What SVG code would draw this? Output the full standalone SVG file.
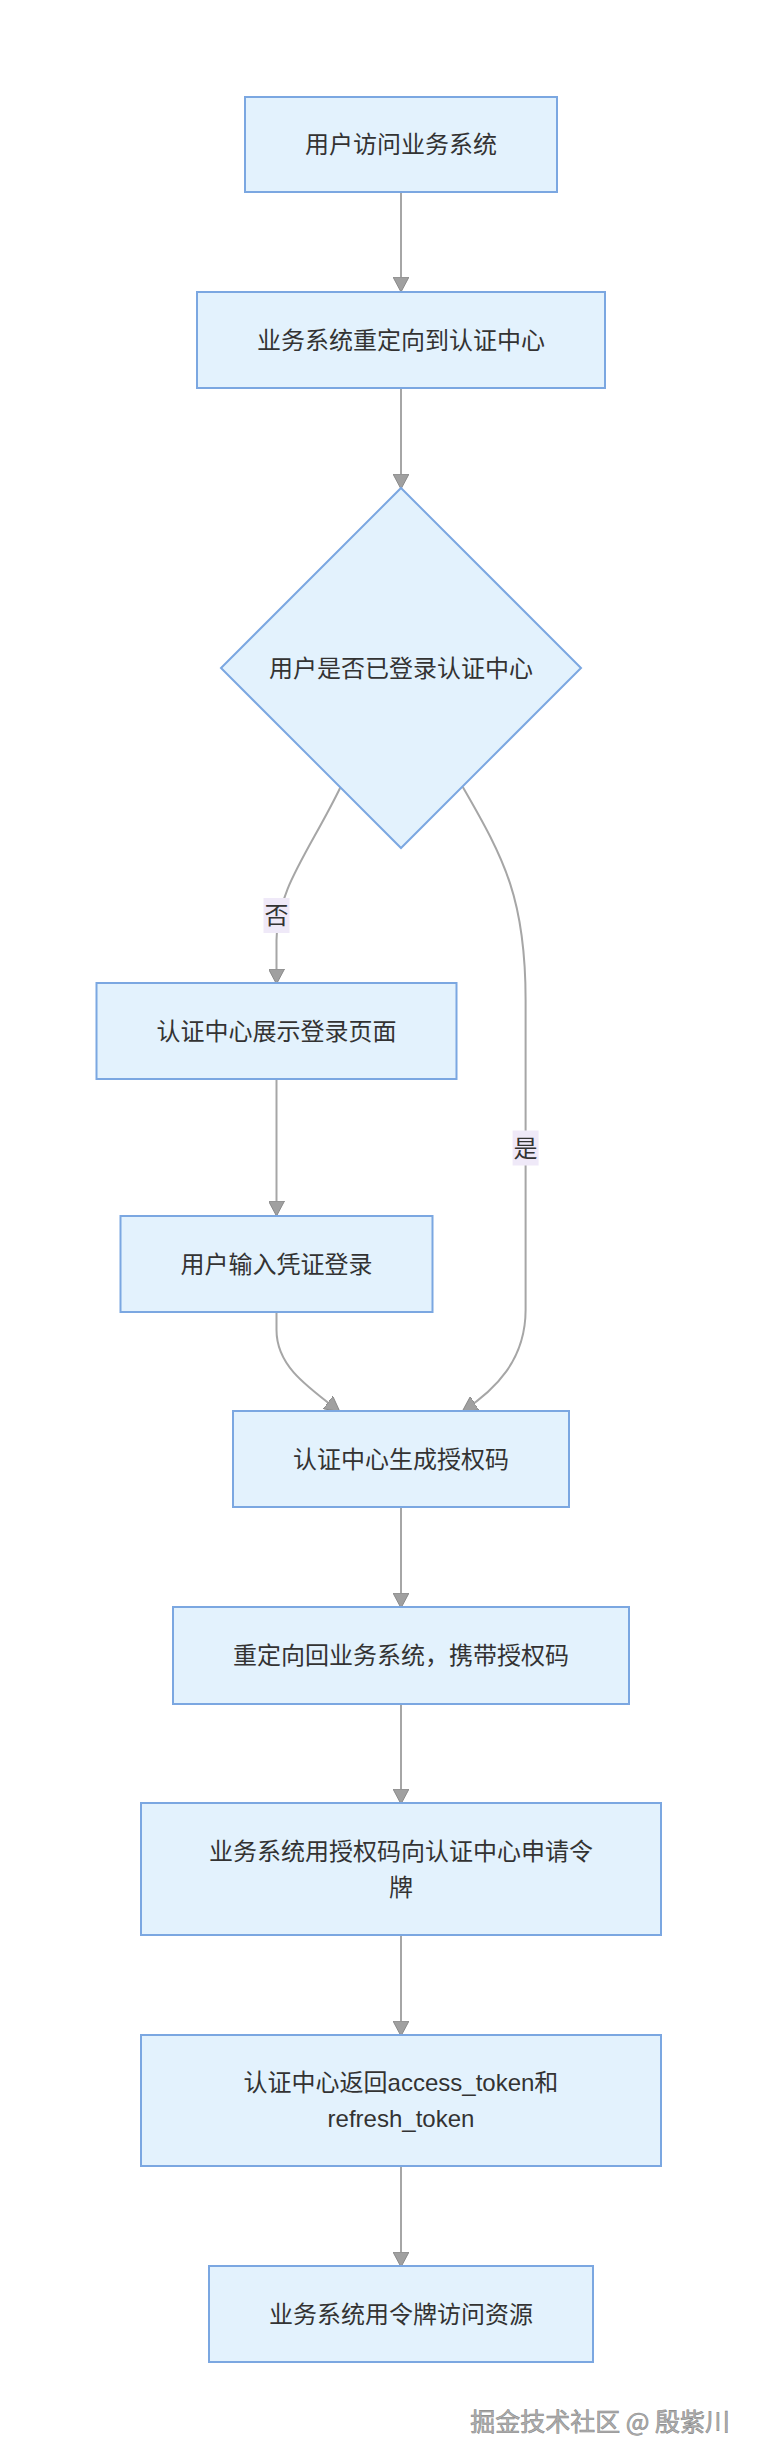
<svg xmlns="http://www.w3.org/2000/svg" width="757" height="2460" viewBox="0 0 757 2460">
<style>
.node rect, .node polygon { fill: #e3f2fd; stroke: #7ba7e1; stroke-width: 2; }
.node text, .lbl text { font-family: "Liberation Sans", "Noto Sans CJK SC", sans-serif; font-size: 24px; fill: #333; text-anchor: middle; dominant-baseline: central; }
.edges path { fill: none; stroke: #a6a6a6; stroke-width: 2; }
.lbl rect { fill: #efe9f8; }
.wm { font-family: "Noto Sans CJK SC", sans-serif; font-size: 25px; fill: #b0b0b0; stroke: #8a8a8a; stroke-width: 0.6; text-anchor: end; dominant-baseline: central; }
</style>
<defs>
<marker id="arr" viewBox="0 0 15 16" markerWidth="15" markerHeight="16" refX="14" refY="8" orient="auto" markerUnits="userSpaceOnUse">
<path d="M0,0 L15,8 L0,16 z" fill="#a0a0a0" stroke="#8a8a8a" stroke-width="1"/>
</marker>
</defs>
<rect width="757" height="2460" fill="#ffffff"/>
<g id="edges" class="edges">
<path d="M401,192 L401,291" marker-end="url(#arr)"/>
<path d="M401,388 L401,488" marker-end="url(#arr)"/>
<path d="M340.6,787 C310,850 276.5,890 276.5,940 L276.5,983" marker-end="url(#arr)"/>
<path d="M276.5,1079 L276.5,1215" marker-end="url(#arr)"/>
<path d="M462.8,787 C505,860 525.6,900 525.6,1000 L525.6,1310 C525.6,1360 495,1390 463,1411" marker-end="url(#arr)"/>
<path d="M276.5,1312 L276.5,1330 C276.5,1365 305,1385 339,1411" marker-end="url(#arr)"/>
<path d="M401,1507 L401,1607" marker-end="url(#arr)"/>
<path d="M401,1704 L401,1803" marker-end="url(#arr)"/>
<path d="M401,1935 L401,2035" marker-end="url(#arr)"/>
<path d="M401,2166 L401,2266" marker-end="url(#arr)"/>
</g>
<g id="label-no" class="lbl">
<rect x="263.5" y="898" width="26" height="35"/>
<text x="276.5" y="915.5">否</text>
</g>
<g id="label-yes" class="lbl">
<rect x="512.6" y="1130.5" width="26" height="35"/>
<text x="525.6" y="1148">是</text>
</g>
<g id="n1" class="node">
<rect x="245" y="97" width="312" height="95"/>
<text x="401" y="144.5">用户访问业务系统</text>
</g>
<g id="n2" class="node">
<rect x="197" y="292" width="408" height="96"/>
<text x="401" y="340">业务系统重定向到认证中心</text>
</g>
<g id="n3" class="node">
<polygon points="401,488 581,668 401,848 221,668"/>
<text x="401" y="668">用户是否已登录认证中心</text>
</g>
<g id="n4" class="node">
<rect x="96.5" y="983" width="360" height="96"/>
<text x="276.5" y="1031">认证中心展示登录页面</text>
</g>
<g id="n5" class="node">
<rect x="120.5" y="1216" width="312" height="96"/>
<text x="276.5" y="1264">用户输入凭证登录</text>
</g>
<g id="n6" class="node">
<rect x="233" y="1411" width="336" height="96"/>
<text x="401" y="1459">认证中心生成授权码</text>
</g>
<g id="n7" class="node">
<rect x="173" y="1607" width="456" height="97"/>
<text x="401" y="1655.5">重定向回业务系统，携带授权码</text>
</g>
<g id="n8" class="node">
<rect x="141" y="1803" width="520" height="132"/>
<text x="401" y="1851.5">业务系统用授权码向认证中心申请令</text>
<text x="401" y="1887">牌</text>
</g>
<g id="n9" class="node">
<rect x="141" y="2035" width="520" height="131"/>
<text x="401" y="2082">认证中心返回access_token和</text>
<text x="401" y="2118">refresh_token</text>
</g>
<g id="n10" class="node">
<rect x="209" y="2266" width="384" height="96"/>
<text x="401" y="2314">业务系统用令牌访问资源</text>
</g>
<text class="wm" x="730" y="2420">掘金技术社区 @ 殷紫川</text>
</svg>
